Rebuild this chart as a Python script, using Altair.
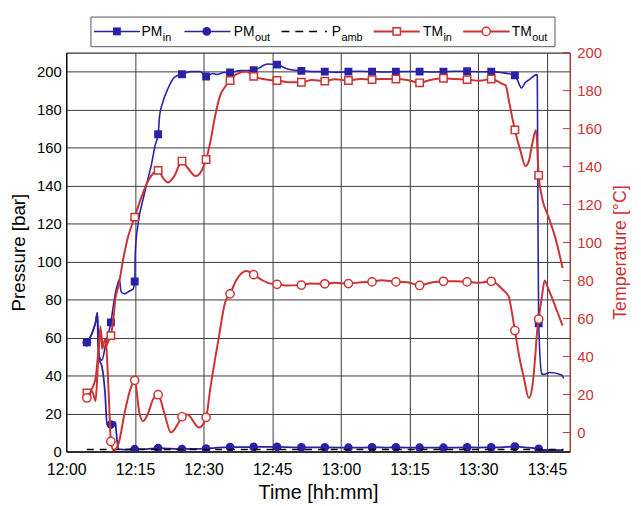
import altair as alt
import pandas as pd

FONT = "Liberation Sans"
BLUE = "#2a22a6"
RED = "#cc3333"
GRID = "#3a3a3a"

# ---------------- axes ----------------
x_ticks = [0, 15, 30, 45, 60, 75, 90, 105]          # minutes after 12:00
x_tick_labels = ["12:00", "12:15", "12:30", "12:45", "13:00", "13:15", "13:30", "13:45"]
p_ticks = [0, 20, 40, 60, 80, 100, 120, 140, 160, 180, 200]
t_ticks = [0, 20, 40, 60, 80, 100, 120, 140, 160, 180, 200]

# ---------------- marker times (min after 12:00) ----------------
marker_t = [4.5, 9.75, 14.95, 20.07, 25.28, 30.55, 35.78, 40.94, 46.04, 51.36,
            56.48, 61.64, 66.8, 72.01, 77.19, 82.4, 87.56, 92.84, 98.0, 103.2]

# ---------------- PM_in [bar] ----------------
pm_in_mk = [57.5, 68, 89.5, 167, 198.6, 197.4, 199.5, 200.7, 203.7, 200.4,
            200, 200, 200, 200, 200, 200, 200.2, 200, 198, 67.5]
pm_in_t = [5.2, 5.9, 6.4, 6.8, 7.0, 7.2, 7.8, 8.5, 9.2, 10.3, 10.7, 11.2, 11.6, 12.0,
           12.8, 13.8, 14.6, 15.1, 15.7, 16.8, 17.9, 18.6, 19.4, 20.4, 21.1, 22.2, 23.6,
           27.1, 29.3, 32.0, 32.9, 34.5, 38.0, 44.0, 48.0, 54.0, 59, 64, 70, 75, 80, 85,
           90, 95.0, 99.47, 100.19, 101.29, 102.75, 102.9, 103.05, 103.87, 104.24,
           105.7, 108.22, 108.65]
pm_in_v = [60, 64, 68, 73, 60, 50, 48, 55, 62, 77, 83, 88, 90.5, 84,
           83, 84.5, 85.5, 106, 120, 133, 144, 151, 161, 177, 184, 191, 197,
           200, 200, 199, 198.5, 199.5, 200.5, 204, 201.7, 200, 199.6, 200.2, 199.8, 200.1, 199.8, 200.2,
           199.9, 199.5, 191.4, 194, 196, 198.4, 198, 120, 41, 40.5,
           41.6, 40.3, 38.5]

# ---------------- PM_out [bar] ----------------
pm_out_mk = [57.5, 14.2, 1.2, 1.8, 1.3, 1.5, 2.3, 2.4, 2.4, 2.2,
             2.2, 2.0, 2.2, 2.2, 2.0, 2.0, 2.2, 2.2, 2.6, 1.4]
pm_out_t = [5.2, 5.9, 6.4, 6.8, 6.95, 7.3, 7.8, 8.5, 8.9, 10.5, 10.75, 10.9, 11.4, 12.5,
            17.5, 22.5, 28, 33, 40, 50, 60, 70, 80, 90, 95, 101, 104.0, 108.6]
pm_out_v = [60, 64, 68, 73, 55, 48, 44.7, 30, 14.2, 15.6, 15.0, 11, 1.2, 1.0,
            1.3, 1.5, 1.4, 2.0, 2.3, 2.2, 2.1, 2.1, 2.0, 2.1, 2.2, 2.0, 0.8, 0.7]

# ---------------- P_amb [bar] ----------------
p_amb_t = [4.5, 108.6]
p_amb_v = [1.0, 1.0]

# ---------------- TM_in [degC] ----------------
tm_in_mk = [20.8, 51, 113.4, 138, 142.9, 143.7, 185.3, 187.5, 185.3, 184.4,
            185, 185.3, 185.8, 186.1, 184.1, 186.5, 185.8, 186.1, 159.3, 135.4]
tm_in_t = [5.3, 6.0, 6.5, 6.9, 7.47, 7.9, 8.5, 9.2, 10.3, 10.7, 11.4, 12.5, 13.5, 16.4,
           17.9, 19.0, 21.1, 22.2, 23.6, 26.5, 28.25, 29.7, 31.5, 32.55, 33.63, 34.7,
           37.2, 39.4, 43.0, 44.4, 48.7, 53.7, 58.7, 64.1, 68.8, 74.5, 79.5, 84.9, 90.3,
           95.3, 96.0, 96.75, 97.46, 99.25, 100.32, 101.05, 101.76, 102.62, 103.92,
           105.36, 106.78, 108.43]
tm_in_v = [22, 25, 30, 40, 54, 47, 45, 48, 60, 70, 77, 92, 103, 123.8,
           132.5, 136.5, 134.2, 131.6, 135, 139.4, 135, 138.5, 153.2, 167, 177.5, 182,
           188.7, 190, 186.1, 185.6, 184.4, 185.6, 186, 186.1, 186.1, 185.6, 185.6, 186.1, 185.2,
           183.5, 182.7, 174, 165.4, 148, 140.3, 142.9, 151.5, 159.3, 123.8,
           113.4, 103, 86.6]

# ---------------- TM_out [degC] ----------------
tm_out_mk = [18.2, -4.7, 27.5, 19.9, 8.3, 8.0, 73, 83.1, 78, 77.6,
             78.3, 78.4, 79.3, 79.3, 77.4, 79.6, 79.3, 79.6, 53.7, 59.7]
tm_out_t = [5.66, 6.39, 6.9, 7.47, 7.81, 8.54, 9.25, 10.33, 11.4, 12.84, 13.9, 16.0,
            16.78, 17.86, 18.93, 21.45, 22.87, 24.5, 26.46, 28.98, 31.48, 33.28, 34.7,
            37.22, 39.37, 42.6, 44.04, 47.98, 53.36, 58.73, 64.48, 68.78, 74.51, 79.54,
            85.26, 90.3, 95.31, 96.75, 97.1, 98.9, 99.98, 101.05, 101.76, 102.47, 102.84,
            103.92, 104.5, 105.36, 106.78, 108.43]
tm_out_v = [21.7, 16.6, 35, 56, 44, 49.4, 21.8, -9.5, -6, 11.4, 22, 10,
            6, 10, 17.3, 10, 0, 5, 9.5, 2.6, 23.4, 49.4, 68.4,
            80.5, 85, 80.5, 78.8, 77.4, 78.4, 78.8, 79.1, 80.2, 79.1, 78.8,
            79.6, 78.8, 75.3, 71, 66.7, 40.7, 28.6, 18.2, 23.4, 40.7, 52.8,
            71.8, 80, 75.3, 66.7, 56.3]


def line_df(lt, lv, mk):
    df = pd.DataFrame({"t": list(lt) + list(marker_t), "v": list(lv) + list(mk)})
    return df.sort_values("t").reset_index(drop=True)


def mk_df(mk):
    return pd.DataFrame({"t": marker_t, "v": mk})


label_expr = "[" + ",".join("'%s'" % s for s in x_tick_labels) + "][round(datum.value/15)]"

x_enc = alt.X("t:Q", scale=alt.Scale(domain=[0, 110], nice=False, zero=False),
              axis=alt.Axis(values=x_ticks, labelExpr=label_expr, title="Time [hh:mm]",
                            grid=True, gridColor=GRID, gridWidth=1, ticks=False,
                            domainColor="black", labelColor="black", labelFontSize=16,
                            labelPadding=10, titleFontSize=20, titleFontWeight="normal",
                            titlePadding=6, titleColor="black", labelFlush=False))

yP = alt.Y("v:Q", scale=alt.Scale(domain=[0, 210], nice=False, zero=False),
           axis=alt.Axis(values=p_ticks, title="Pressure [bar]", orient="left", grid=True,
                         gridColor=GRID, gridWidth=1, ticks=False, domainColor="black",
                         labelColor="black", labelFontSize=15, labelPadding=5,
                         titleFontSize=19, titleFontWeight="normal", titlePadding=8,
                         titleColor="black", labelFlush=False))

yT = alt.Y("v:Q", scale=alt.Scale(domain=[-10, 200], nice=False, zero=False),
           axis=alt.Axis(values=t_ticks, title="Temperature [°C]", orient="right", grid=False,
                         ticks=False, domainColor=RED, labelColor=RED, labelFontSize=15,
                         labelPadding=7, titleFontSize=18, titleFontWeight="normal",
                         titleColor=RED, titleAngle=270, titleBaseline="top",
                         titlePadding=10, labelFlush=False))


def line(df, color, width, y, dash=None):
    kw = dict(color=color, strokeWidth=width, interpolate="monotone", clip=True)
    if dash:
        kw["strokeDash"] = dash
    return alt.Chart(df).mark_line(**kw).encode(x=x_enc, y=y)


def pts(df, shape, color, y, hollow, size):
    if hollow:
        m = alt.Chart(df).mark_point(shape=shape, filled=True, fill="white", stroke=color,
                                     strokeWidth=1.5, size=size, opacity=1, clip=True)
    else:
        m = alt.Chart(df).mark_point(shape=shape, filled=True, color=color, size=size,
                                     opacity=1, clip=True)
    return m.encode(x=x_enc, y=y)


pressure = alt.layer(
    line(line_df(pm_in_t, pm_in_v, pm_in_mk), BLUE, 1.6, yP),
    pts(mk_df(pm_in_mk), "square", BLUE, yP, False, 64),
    line(line_df(pm_out_t, pm_out_v, pm_out_mk), BLUE, 1.8, yP),
    pts(mk_df(pm_out_mk), "circle", BLUE, yP, False, 78),
    line(pd.DataFrame({"t": p_amb_t, "v": p_amb_v}), "black", 1.5, yP, dash=[7, 6]),
)

tick_rules = alt.Chart(pd.DataFrame({"v": t_ticks})).mark_rule(color=RED, strokeWidth=1).encode(
    y=yT, x=alt.value(503), x2=alt.value(510))

temperature = alt.layer(
    line(line_df(tm_in_t, tm_in_v, tm_in_mk), RED, 2, yT),
    pts(mk_df(tm_in_mk), "square", RED, yT, True, 56),
    line(line_df(tm_out_t, tm_out_v, tm_out_mk), RED, 2, yT),
    pts(mk_df(tm_out_mk), "circle", RED, yT, True, 70),
    tick_rules,
)

# ---------------- legend (drawn above the plot) ----------------
one = pd.DataFrame({"a": [0]})
LY = -21.5


def lrule(x1, x2, color, width, dash=None):
    kw = dict(color=color, strokeWidth=width)
    if dash:
        kw["strokeDash"] = dash
    return alt.Chart(one).mark_rule(**kw).encode(
        x=alt.value(x1), x2=alt.value(x2), y=alt.value(LY))


def lpt(x, shape, color, hollow, size):
    if hollow:
        m = alt.Chart(one).mark_point(shape=shape, filled=True, fill="white", stroke=color,
                                      strokeWidth=1.5, size=size, opacity=1)
    else:
        m = alt.Chart(one).mark_point(shape=shape, filled=True, color=color, size=size, opacity=1)
    return m.encode(x=alt.value(x), y=alt.value(LY))


def ltext(x, main, sub, main_w):
    a = alt.Chart(one).mark_text(font=FONT, fontSize=14, align="left", baseline="alphabetic",
                                 color="black").encode(
        x=alt.value(x), y=alt.value(-17.0), text=alt.value(main))
    b = alt.Chart(one).mark_text(font=FONT, fontSize=11, align="left", baseline="alphabetic",
                                 color="black").encode(
        x=alt.value(x + main_w + 0.5), y=alt.value(-11.5), text=alt.value(sub))
    return [a, b]


legend_box = alt.Chart(one).mark_rect(fill="white", stroke="#555555", strokeWidth=1).encode(
    x=alt.value(25), x2=alt.value(495), y=alt.value(-36), y2=alt.value(-6))

legend_layers = [legend_box,
                 lrule(28, 74.7, BLUE, 1.5), lpt(51.3, "square", BLUE, False, 64),
                 *ltext(76.3, "PM", "in", 21),
                 lrule(119.7, 166.3, BLUE, 1.5), lpt(142.3, "circle", BLUE, False, 78),
                 *ltext(169.7, "PM", "out", 21),
                 lrule(218, 256.3, "black", 1.5, dash=[8, 6]), lpt(263, "circle", "black", False, 4),
                 *ltext(269, "P", "amb", 9.3),
                 lrule(311.3, 358, RED, 2), lpt(334.7, "square", RED, True, 56),
                 *ltext(361.3, "TM", "in", 20.2),
                 lrule(402, 449, RED, 2), lpt(425.3, "circle", RED, True, 70),
                 *ltext(451.3, "TM", "out", 20.2)]

chart = alt.layer(pressure, temperature, *legend_layers).resolve_scale(
    y="independent"
).properties(
    width=510, height=404,
    autosize=alt.AutoSizeParams(type="none"),
    padding={"left": 59, "top": 42, "right": 64, "bottom": 52},
).configure_axis(
    labelFont=FONT, titleFont=FONT
).configure_view(
    stroke="black", strokeWidth=1
)

chart.save("out.html", embed_options={"renderer": "svg", "actions": False})
